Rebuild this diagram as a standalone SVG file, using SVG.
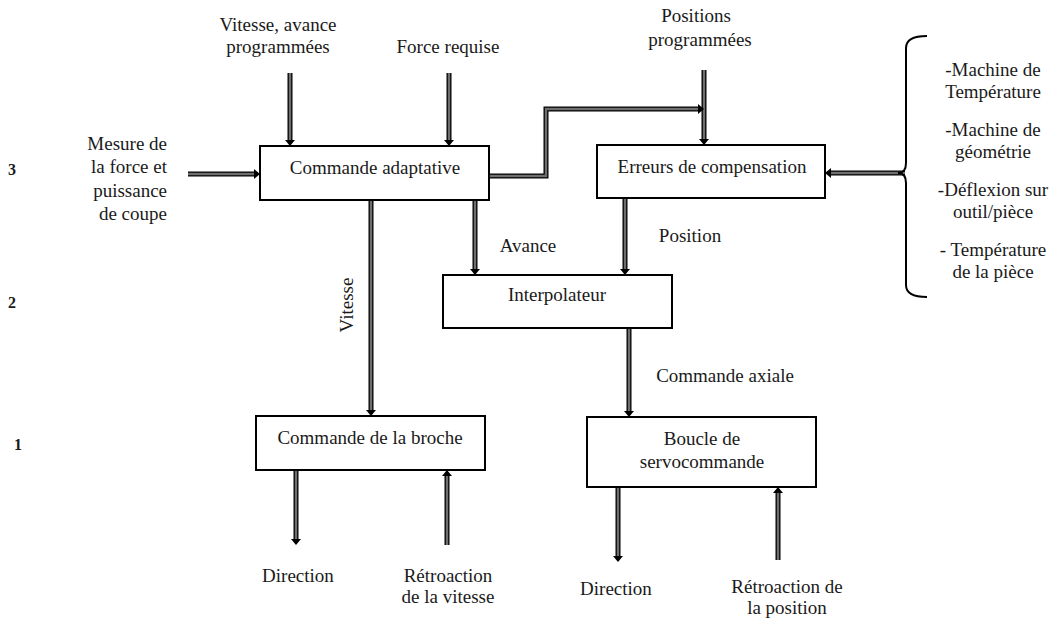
<svg xmlns="http://www.w3.org/2000/svg" width="1052" height="619" viewBox="0 0 1052 619" font-family="'Liberation Serif', 'DejaVu Serif', serif">
<style>
text{font-family:'Liberation Serif','DejaVu Serif',serif;font-size:19px;fill:#1a1a1a}
.c{text-anchor:middle}
.r{text-anchor:end}
.num{font-size:16px;font-weight:bold}
.box{fill:#fff;stroke:#000;stroke-width:2}
.outer{fill:none;stroke:#000;stroke-width:5;stroke-linejoin:miter}
.inner{fill:none;stroke:#6e6e6e;stroke-width:2.4;stroke-linejoin:miter}
.brace{fill:none;stroke:#000;stroke-width:2}
</style>
<rect width="1052" height="619" fill="#fff"/>

<g id="levels">
<text class="num" x="8" y="175">3</text>
<text class="num" x="8" y="308">2</text>
<text class="num" x="14" y="450">1</text>
</g>

<g id="connectors">
<g class="outer">
<path d="M290 73 V140"/>
<path d="M449 73 V140"/>
<path d="M188 174 H254"/>
<path d="M489 176 H546 V109 H698"/>
<path d="M704 70 V139"/>
<path d="M905 173 H831"/>
<path d="M371 200 V410"/>
<path d="M475 200 V269"/>
<path d="M625 198 V269"/>
<path d="M629 328 V411"/>
<path d="M296 470 V539"/>
<path d="M447 545 V476"/>
<path d="M618 487 V556"/>
<path d="M778 560 V493"/>
</g>
<g class="inner">
<path d="M290 73 V140"/>
<path d="M449 73 V140"/>
<path d="M188 174 H254"/>
<path d="M489 176 H546 V109 H698"/>
<path d="M704 70 V139"/>
<path d="M905 173 H831"/>
<path d="M371 200 V410"/>
<path d="M475 200 V269"/>
<path d="M625 198 V269"/>
<path d="M629 328 V411"/>
<path d="M296 470 V539"/>
<path d="M447 545 V476"/>
<path d="M618 487 V556"/>
<path d="M778 560 V493"/>
</g>
<g fill="#000">
<path d="M285 140 H295 L290 146 Z"/>
<path d="M444 140 H454 L449 146 Z"/>
<path d="M254 169 V179 L260 174 Z"/>
<path d="M698 104 V114 L704 109 Z"/>
<path d="M699 139 H709 L704 145 Z"/>
<path d="M831 168 V178 L825 173 Z"/>
<path d="M366 410 H376 L371 416 Z"/>
<path d="M470 269 H480 L475 275 Z"/>
<path d="M620 269 H630 L625 275 Z"/>
<path d="M624 411 H634 L629 417 Z"/>
<path d="M291 539 H301 L296 545 Z"/>
<path d="M442 476 H452 L447 470 Z"/>
<path d="M613 556 H623 L618 562 Z"/>
<path d="M773 493 H783 L778 487 Z"/>
</g>
</g>

<g id="inputs">
<text class="c" x="278" y="31">Vitesse, avance</text>
<text class="c" x="278" y="53">programmées</text>
<text class="c" x="448" y="53">Force requise</text>
<text class="c" x="696" y="22">Positions</text>
<text class="c" x="700" y="46">programmées</text>
<text class="r" x="167" y="150">Mesure de</text>
<text class="r" x="167" y="173">la force et</text>
<text class="r" x="167" y="197">puissance</text>
<text class="r" x="167" y="220">de coupe</text>
</g>

<g id="commande-adaptative">
<rect class="box" x="260" y="146" width="229" height="54"/>
<text class="c" x="375" y="174">Commande adaptative</text>
</g>

<g id="erreurs-compensation">
<rect class="box" x="597" y="145" width="228" height="53"/>
<text class="c" x="712" y="173">Erreurs de compensation</text>
</g>

<g id="interpolateur">
<rect class="box" x="443" y="275" width="229" height="53"/>
<text class="c" x="557" y="301">Interpolateur</text>
</g>

<g id="commande-broche">
<rect class="box" x="256" y="416" width="229" height="54"/>
<text class="c" x="370" y="444">Commande de la broche</text>
</g>

<g id="boucle-servo">
<rect class="box" x="587" y="417" width="229" height="70"/>
<text class="c" x="702" y="445">Boucle de</text>
<text class="c" x="702" y="468">servocommande</text>
</g>

<g id="labels">
<text class="c" transform="translate(353,305) rotate(-90)">Vitesse</text>
<text class="c" x="528" y="252">Avance</text>
<text class="c" x="690" y="242">Position</text>
<text class="c" x="725" y="382">Commande axiale</text>
</g>

<g id="outputs">
<text class="c" x="298" y="582">Direction</text>
<text class="c" x="448" y="582">Rétroaction</text>
<text class="c" x="448" y="603">de la vitesse</text>
<text class="c" x="616" y="595">Direction</text>
<text class="c" x="787" y="593">Rétroaction de</text>
<text class="c" x="787" y="614">la position</text>
</g>

<g id="perturbations">
<path class="brace" d="M927 36 Q906 36 906 48 V163 Q906 173 898 173 Q906 173 906 183 V285 Q906 297 927 297"/>
<text class="c" x="993" y="76">-Machine de</text>
<text class="c" x="993" y="98">Température</text>
<text class="c" x="993" y="136">-Machine de</text>
<text class="c" x="993" y="158">géométrie</text>
<text class="c" x="993" y="196">-Déflexion sur</text>
<text class="c" x="993" y="218">outil/pièce</text>
<text class="c" x="993" y="256">- Température</text>
<text class="c" x="993" y="278">de la pièce</text>
</g>
</svg>
